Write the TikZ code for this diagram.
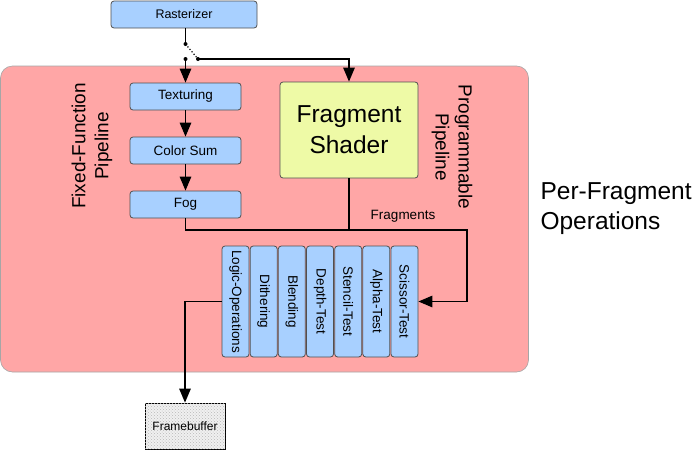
\documentclass[tikz,border=0pt]{standalone}
\usepackage{fontspec}
\setmainfont{Liberation Sans}
\usetikzlibrary{arrows.meta,patterns}
\definecolor{pinkbg}{RGB}{255,166,166}
\definecolor{bluebox}{RGB}{168,208,255}
\definecolor{shadercol}{RGB}{238,250,166}
\definecolor{edgecol}{RGB}{80,80,80}
\tikzset{
  hbox/.style={draw=edgecol,line width=0.8pt,fill=bluebox,rounded corners=3pt,
    minimum width=111pt,minimum height=27pt,inner sep=0pt,font=\fontsize{13.5}{16}\selectfont},
  vbox/.style={draw=edgecol,line width=0.8pt,fill=bluebox,rounded corners=3pt,rotate=-90,
    minimum width=111pt,minimum height=27pt,inner sep=0pt,font=\fontsize{13.5}{16}\selectfont},
  conn/.style={line width=1.3pt,black},
  arr/.style={conn,-{Triangle[length=14pt,width=11.5pt]}},
  dotpt/.style={fill=black,circle,inner sep=0pt,minimum size=4pt}
}
\begin{document}
\begin{tikzpicture}[x=1pt,y=-1pt]
\useasboundingbox (0,0) rectangle (693,450);
% background box
\node[draw=gray!70,line width=0.6pt,fill=pinkbg,rounded corners=12pt,minimum width=528pt,minimum height=306pt,inner sep=0pt] (pfo) at (264.5,219) {};
\node[anchor=west,align=left,font=\fontsize{24.5}{30}\selectfont] (pfolabel) at (537,209) {Per-Fragment\\Operations};
% nodes
\node[hbox,minimum width=146pt,font=\fontsize{12.5}{15}\selectfont] (rast) at (184,14.5) {Rasterizer};
\node[hbox] (tex) at (185.5,96.5) {Texturing};
\node[hbox] (csum) at (185.5,150.5) {Color Sum};
\node[hbox] (fog) at (185.5,204.5) {Fog};
\node[draw=edgecol,line width=0.8pt,fill=shadercol,rounded corners=3pt,minimum width=138pt,minimum height=96pt,align=center,font=\fontsize{24.5}{31}\selectfont] (shader) at (349,130) {Fragment\\Shader};
\node[rotate=90,align=center,font=\fontsize{19}{23}\selectfont] (ffp) at (92,146) {Fixed-Function\\Pipeline};
\node[rotate=-90,align=center,font=\fontsize{19}{23}\selectfont] (pp) at (452,147) {Programmable\\Pipeline};
\node[vbox] (logic) at (235.5,301.5) {Logic-Operations};
\node[vbox] (dith) at (263.7,301.5) {Dithering};
\node[vbox] (blend) at (291.8,301.5) {Blending};
\node[vbox] (depth) at (320,301.5) {Depth-Test};
\node[vbox] (stencil) at (348.2,301.5) {Stencil-Test};
\node[vbox] (alpha) at (376.3,301.5) {Alpha-Test};
\node[vbox] (sciss) at (404.5,301.5) {Scissor-Test};
\node[draw=black,line width=0.8pt,fill=gray!12,postaction={pattern=crosshatch dots,pattern color=gray!55},minimum width=80pt,minimum height=46pt,inner sep=0pt] (fb) at (185,426) {};
\node[font=\fontsize{12}{14}\selectfont] (fblabel) at (fb.center) {Framebuffer};
\node[font=\fontsize{13.5}{16}\selectfont] (fraglabel) at (403,216) {Fragments};
% switch
\coordinate (s1) at (185.5,44);
\coordinate (s2) at (198,59);
\coordinate (s3) at (185.5,59);
\coordinate (j) at (467,230);
\draw[conn] (rast.south -| s1) -- (s1);
\draw[line width=1.2pt,dotted] (s1) -- (s2);
\draw[arr] (s2) -- (shader.north |- s2) -- (shader.north);
\draw[arr] (s3) -- (tex.north);
\node[dotpt] (d1) at (s1) {};
\node[dotpt] (d2) at (s2) {};
\node[dotpt] (d3) at (s3) {};
% fixed function chain
\draw[arr] (tex) -- (csum);
\draw[arr] (csum) -- (fog);
\draw[arr] (fog.south) -- (fog.south |- j) -- (j) -- (j |- sciss.north) -- (sciss.north);
\draw[conn] (shader.south) -- (shader.south |- j);
\draw[arr] (logic.south) -- (logic.south -| fb.north) -- (fb.north);
\end{tikzpicture}
\end{document}
